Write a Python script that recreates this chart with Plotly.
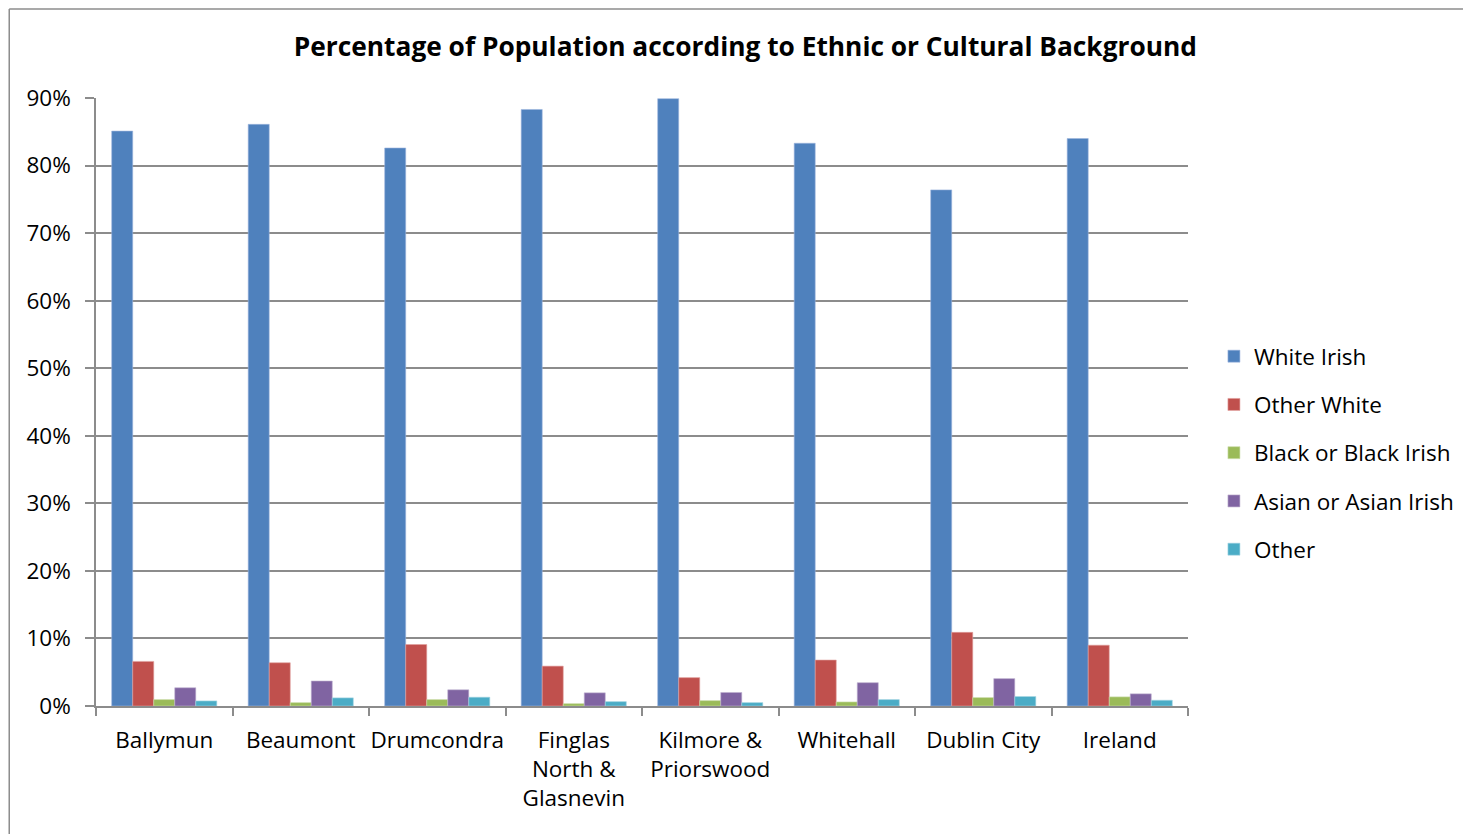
import plotly.graph_objects as go

categories = ["Ballymun", "Beaumont", "Drumcondra", "Finglas<br>North &<br>Glasnevin",
              "Kilmore &<br>Priorswood", "Whitehall", "Dublin City", "Ireland"]
white_irish = [85.1, 86.1, 82.6, 88.3, 89.9, 83.3, 76.4, 84.0]
other_white = [6.6, 6.4, 9.1, 5.9, 4.2, 6.8, 10.9, 9.0]
black_irish = [0.95, 0.5, 0.95, 0.35, 0.8, 0.6, 1.25, 1.35]
asian_irish = [2.7, 3.7, 2.4, 1.95, 2.0, 3.45, 4.05, 1.8]
other = [0.75, 1.2, 1.3, 0.65, 0.5, 0.95, 1.4, 0.85]

series = [
    ("White Irish", white_irish, "#4F81BD", "#9DB6DD"),
    ("Other White", other_white, "#C0504D", "#E0A09E"),
    ("Black or Black Irish", black_irish, "#9BBB59", "#CDDDAC"),
    ("Asian or Asian Irish", asian_irish, "#8064A2", "#BFB1D0"),
    ("Other", other, "#4BACC6", "#A5D5E2"),
]
y_ticks = [0, 10, 20, 30, 40, 50, 60, 70, 80, 90]
y_tick_labels = [f"{v}%" for v in y_ticks]

FONT = "Open Sans"
FS = 22.5
W, H = 1463, 826
ML, MR, MT, MB = 88, 280, 90, 128
PW, PH = W - ML - MR, H - MT - MB

fig = go.Figure()
for i, (name, vals, col, lcol) in enumerate(series):
    fig.add_trace(go.Bar(
        x=categories, y=vals, name=name, legendgroup=f"g{i}",
        marker=dict(color=col, line=dict(color=lcol, width=0.6)),
    ))

fig.update_layout(
    width=W, height=H,
    margin=dict(l=ML, r=MR, t=MT, b=MB),
    paper_bgcolor="white", plot_bgcolor="white",
    barmode="group", bargap=0.23, bargroupgap=0,
    title=dict(
        text="<b>Percentage of Population according to Ethnic or Cultural Background</b>",
        x=0.504, xanchor="center", y=0.953, yanchor="middle",
        font=dict(family=FONT, size=26.3, color="black"),
    ),
    font=dict(family=FONT, size=FS, color="black"),
    legend=dict(
        x=1121.0 / PW, xanchor="left",
        y=0.416, yanchor="middle",
        font=dict(family=FONT, size=FS, color="black"),
        traceorder="grouped", tracegroupgap=16, itemwidth=30,
        bgcolor="rgba(0,0,0,0)",
    ),
    showlegend=True,
)
fig.update_xaxes(
    type="category", showline=True, linecolor="#8c8c8c", linewidth=1.5,
    ticks="outside", tickson="boundaries", ticklen=8, tickcolor="#8c8c8c", tickwidth=1.5,
    showgrid=False, tickfont=dict(family=FONT, size=FS, color="black"),
    ticklabelstandoff=13, tickangle=0,
)
fig.update_yaxes(
    range=[0, 90], tickvals=y_ticks, ticktext=y_tick_labels,
    showline=True, linecolor="#8c8c8c", linewidth=1.5,
    ticks="outside", ticklen=9, tickcolor="#8c8c8c", tickwidth=1.5,
    showgrid=True, gridcolor="#8c8c8c", gridwidth=1.5,
    tickfont=dict(family=FONT, size=FS, color="black"),
    ticklabelstandoff=10, zeroline=False,
)
# chart-area outline (figure pixel coords converted to paper fractions)
bx0 = (1.0 - ML) / PW
bx1 = (W - 1.5 - ML) / PW
by1 = 1 + (MT - 1.0) / PH
by0 = -(MB + 20) / PH
border = dict(xref="paper", yref="paper", line=dict(color="#8c8c8c", width=1.5))
fig.add_shape(type="line", x0=bx0, x1=bx0, y0=by0, y1=by1, **border)
fig.add_shape(type="line", x0=bx0, x1=bx1, y0=by1, y1=by1, **border)
fig.add_shape(type="line", x0=bx1, x1=bx1, y0=by0, y1=by1, **border)
fig.write_html("out.html")
